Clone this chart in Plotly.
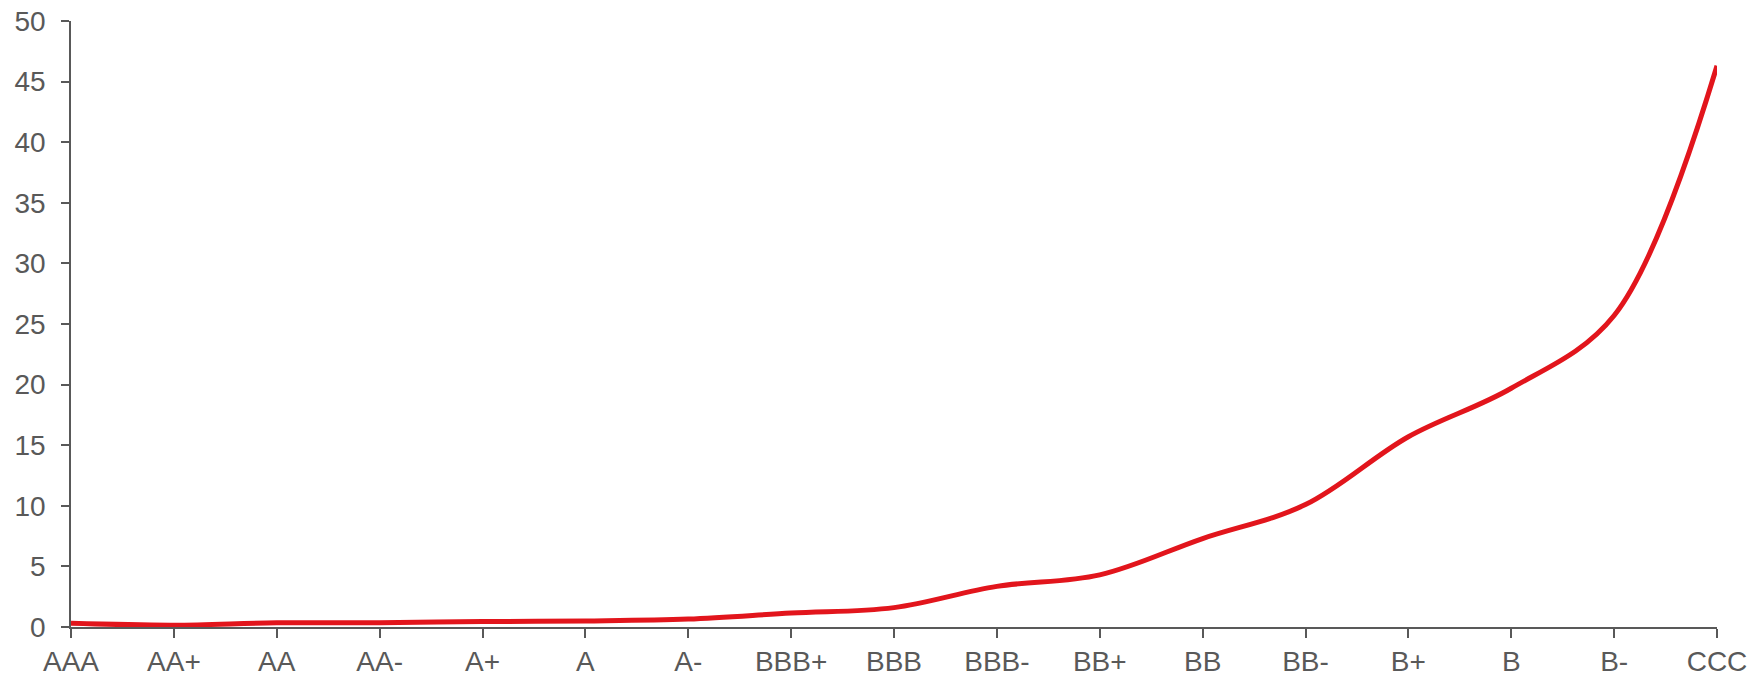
import plotly.graph_objects as go

ratings = ["AAA", "AA+", "AA", "AA-", "A+", "A", "A-", "BBB+", "BBB", "BBB-",
           "BB+", "BB", "BB-", "B+", "B", "B-", "CCC"]
default_rate = [0.3, 0.15, 0.35, 0.35, 0.45, 0.5, 0.65, 1.15, 1.6, 3.35,
                4.3, 7.3, 10.1, 15.7, 19.7, 25.7, 46.3]
y_ticks = [0, 5, 10, 15, 20, 25, 30, 35, 40, 45, 50]

axis_color = "#595959"
font_color = "#595959"

fig = go.Figure()
fig.add_trace(go.Scatter(
    x=ratings, y=default_rate, mode="lines",
    line=dict(color="#E2151C", width=5, shape="spline", smoothing=1.0),
    cliponaxis=False, showlegend=False, hoverinfo="x+y",
))

fig.update_layout(
    width=1752, height=676,
    margin=dict(l=71, r=35, t=21, b=49, autoexpand=False),
    paper_bgcolor="white", plot_bgcolor="white",
    font=dict(family="Liberation Sans, Arial, sans-serif", size=28, color=font_color),
)
fig.update_xaxes(
    type="category", range=[0, len(ratings) - 1], automargin=False,
    showline=True, linecolor=axis_color, linewidth=1.5,
    ticks="outside", ticklen=9, tickwidth=1.5, tickcolor=axis_color,
    showgrid=False, zeroline=False, ticklabelstandoff=0,
)
fig.update_yaxes(
    range=[0, 50], tickvals=y_ticks, automargin=False,
    showline=True, linecolor=axis_color, linewidth=1.5,
    ticks="outside", ticklen=8, tickwidth=1.5, tickcolor=axis_color,
    showgrid=False, zeroline=False, ticklabelstandoff=10,
)

fig.write_html(
    "out.html",
    config={"displayModeBar": False},
    post_script="document.body.style.margin='0';document.body.style.overflow='hidden';",
)
